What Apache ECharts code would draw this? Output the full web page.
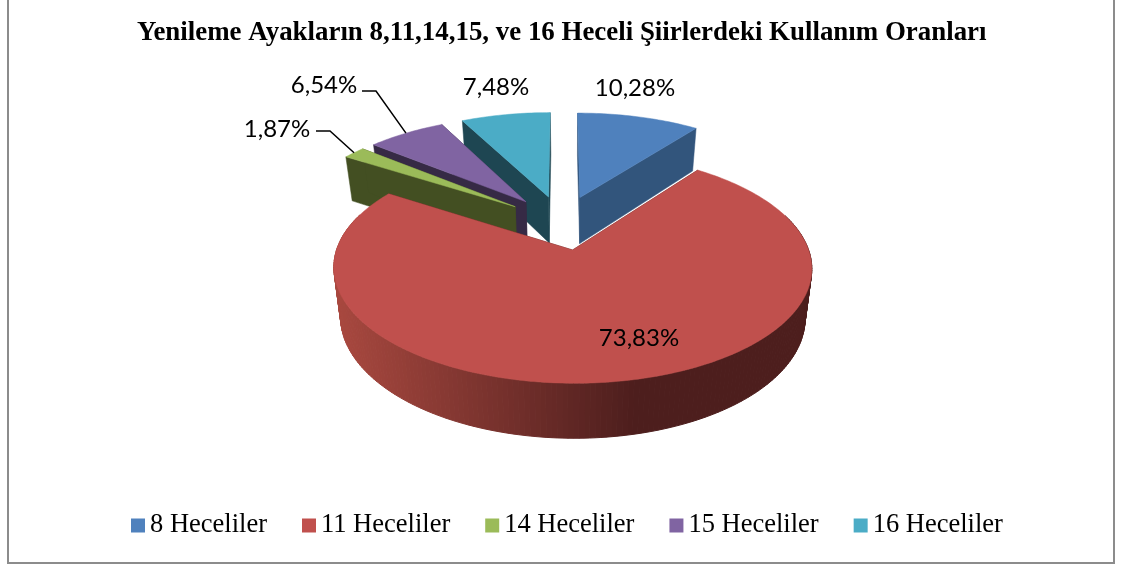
<!DOCTYPE html>
<html>
<head>
<meta charset="utf-8">
<style>html,body{margin:0;padding:0;background:#fff}#c{width:1121px;height:564px}</style>
<script src="https://cdn.jsdelivr.net/npm/echarts@6/dist/echarts.min.js"></script>
</head>
<body>
<div id="c"></div>
<script>
const titleText = 'Yenileme Ayakların 8,11,14,15, ve 16 Heceli Şiirlerdeki Kullanım Oranları';
const categories = ['8 Heceliler', '11 Heceliler', '14 Heceliler', '15 Heceliler', '16 Heceliler'];
const values = [10.28, 73.83, 1.87, 6.54, 7.48];
const topColors = ['#4F81BD', '#C0504D', '#9BBB59', '#8064A2', '#4BACC6'];
const sideColors = ['#32557C', '#4D1E1D', '#434F22', '#362A45', '#1E4652'];

// projection of the tilted, exploded pie
const view = { cx: 561.8, cy: 222.3, A: 227, B: 104, k: 0.15, explode: 0.26, depthA: 13.5, depthB: 33.7, shrink: 0.972, vx: 572 };
// label placement (centre of each text), and leader start for the outside labels
const labelSpots = [[635, 88], [639, 338], [277, 129], [324, 85], [496, 87]];
const leaderStarts = [null, null, [316, 131], [362, 91], null];
const leaderKnee = 14;

const total = values.reduce((a, b) => a + b, 0);
const starts = [];
values.reduce((acc, v, i) => { starts[i] = acc; return acc + v; }, 0);
const toAngle = v => v / total * 2 * Math.PI;

function project(U, V, bottom) {
  const w = 1 / (1 - view.k * V);
  let x = view.cx + view.A * U * w;
  let y = view.cy + view.B * V * w;
  if (bottom) {
    x = view.vx + (x - view.vx) * view.shrink;
    y += view.depthA + view.depthB * w;
  }
  return [x, y];
}

function sliceGeom(i) {
  const a0 = toAngle(starts[i]);
  const a1 = toAngle(starts[i] + values[i]);
  const mid = (a0 + a1) / 2;
  const ou = Math.sin(mid) * view.explode;
  const ov = -Math.cos(mid) * view.explode;
  const pt = (a, b) => project(ou + Math.sin(a), ov - Math.cos(a), b);
  const apex = b => project(ou, ov, b);
  const steps = Math.max(4, Math.ceil((a1 - a0) / 0.02));
  const arc = b => {
    const r = [];
    for (let s = 0; s <= steps; s++) r.push(pt(a0 + (a1 - a0) * s / steps, b));
    return r;
  };
  return { a0, a1, mid, ou, ov, pt, apex, arc, steps };
}

function mix(c1, c2, t) {
  const p = c => [1, 3, 5].map(n => parseInt(c.substr(n, 2), 16));
  const a = p(c1), b = p(c2);
  return 'rgb(' + a.map((v, n) => Math.round(v + (b[n] - v) * t)).join(',') + ')';
}

function renderSlice(i) {
  return function () {
    const g = sliceGeom(i);
    const children = [];
    const poly = (points, fill, z2) => children.push({
      type: 'polygon', shape: { points }, style: { fill, stroke: fill, lineWidth: 0.5 }, z2
    });
    const topArc = g.arc(false), botArc = g.arc(true);
    // cut faces
    poly([g.apex(false), g.pt(g.a0, false), g.pt(g.a0, true), g.apex(true)], sideColors[i], 1);
    poly([g.apex(false), g.pt(g.a1, false), g.pt(g.a1, true), g.apex(true)], sideColors[i], 1);
    // outer wall, only the part turned to the viewer
    for (let s = 0; s < g.steps; s++) {
      const am = g.a0 + (g.a1 - g.a0) * (s + 0.5) / g.steps;
      if (-Math.cos(am) > -0.32) {
        const xm = (topArc[s][0] + topArc[s + 1][0]) / 2;
        let fill = sideColors[i];
        if (i === 1) {
          // shading of the big slice: light at the left, dark from the front right
          const t = Math.min(1, Math.max(0, (xm - 335) / 300));
          fill = mix('#A8483F', sideColors[1], t);
        }
        children.push({
          type: 'polygon',
          shape: { points: [topArc[s], topArc[s + 1], botArc[s + 1], botArc[s]] },
          style: { fill, stroke: fill, lineWidth: 1 },
          z2: 2
        });
      }
    }
    // top face
    poly([g.apex(false)].concat(topArc), topColors[i], 3);
    // label
    const label = values[i].toFixed(2).replace('.', ',') + '%';
    children.push({
      type: 'text', z2: 5,
      style: {
        x: labelSpots[i][0], y: labelSpots[i][1], text: label,
        fill: '#000', font: '24px Lato', align: 'center', verticalAlign: 'middle'
      }
    });
    if (leaderStarts[i]) {
      const s = leaderStarts[i];
      const end = project(g.ou + Math.sin(g.mid), g.ov - Math.cos(g.mid), false);
      children.push({
        type: 'polyline', z2: 4,
        shape: { points: [s, [s[0] + leaderKnee, s[1]], end] },
        style: { stroke: '#000', lineWidth: 1.5, fill: null }
      });
    }
    return { type: 'group', children };
  };
}

// far slices are painted first
const paintOrder = values.map((v, i) => -Math.cos(toAngle(starts[i] + v / 2)));

const chart = echarts.init(document.getElementById('c'), null, { renderer: 'canvas' });
chart.setOption({
  animation: false,
  backgroundColor: '#fff',
  title: {
    text: titleText, left: 137, top: 20,
    padding: 0,
    textStyle: { fontFamily: 'Liberation Serif', fontSize: 26.9, fontWeight: 'bold', color: '#000' }
  },
  legend: {
    data: categories, left: 126, top: 507, icon: 'rect',
    itemWidth: 14, itemHeight: 14, itemGap: 35,
    selectedMode: false,
    textStyle: { fontFamily: 'Liberation Serif', fontSize: 26.5, color: '#000' }
  },
  graphic: [{
    type: 'rect', silent: true, z: -1,
    shape: { x: 8, y: -5, width: 1106, height: 568 },
    style: { fill: null, stroke: '#8c8c8c', lineWidth: 2 }
  }],
  series: categories.map((name, i) => ({
    type: 'custom', name, coordinateSystem: 'none',
    silent: true, z: 3 + paintOrder[i],
    color: topColors[i],
    itemStyle: { color: topColors[i] },
    data: [[values[i]]],
    renderItem: renderSlice(i)
  }))
});
</script>
</body>
</html>
